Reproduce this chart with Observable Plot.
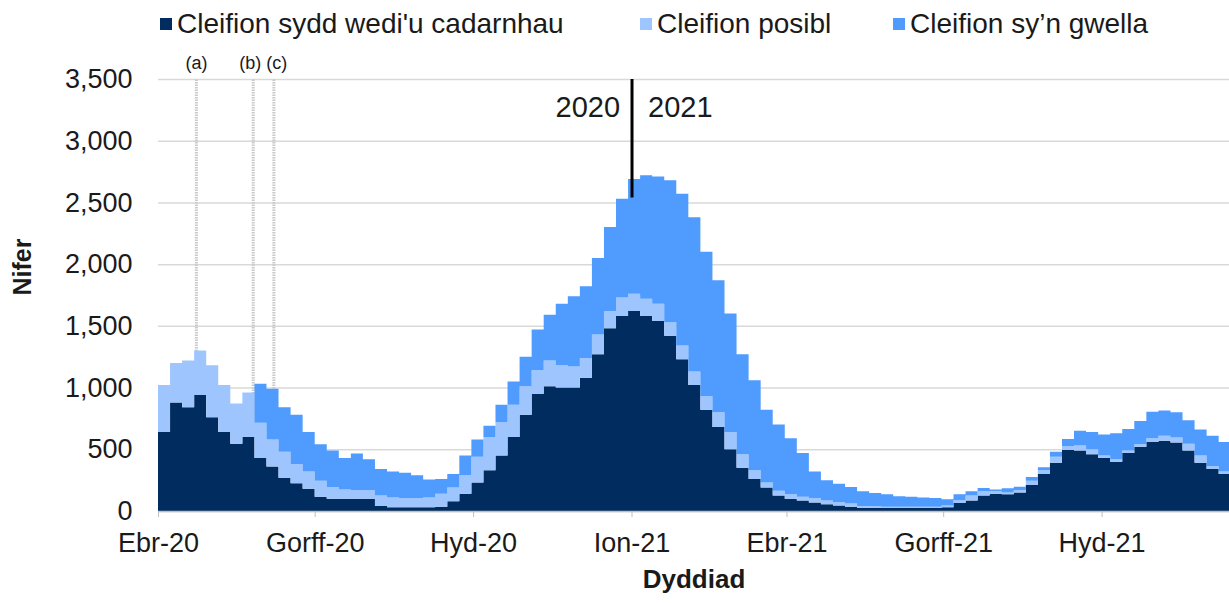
<!DOCTYPE html>
<html>
<head>
<meta charset="utf-8">
<script src="https://cdn.jsdelivr.net/npm/d3@7"></script>
<script src="https://cdn.jsdelivr.net/npm/@observablehq/plot@0.6"></script>
<style>
  body { margin: 0; background: #fff; font-family: "Liberation Sans", Arial, sans-serif; color: #1a1a1a; }
  #legend { position: relative; width: 1229px; height: 50px; }
  .item { position: absolute; top: 8px; display: flex; align-items: center; font-size: 28px; white-space: nowrap; }
  .sw { width: 12px; height: 12px; margin-right: 5px; }
</style>
</head>
<body>
<div id="legend"></div>
<div id="chart"></div>
<script>
// Weekly values, starting 1 April 2020 (each value covers 7 days)
const seriesNames = ["Cleifion sydd wedi'u cadarnhau", "Cleifion posibl", "Cleifion sy’n gwella"];
const seriesColors = ["#002c5f", "#9fc5fe", "#4f9bfe"];
const confirmed = [640,880,840,940,760,640,545,600,430,360,270,225,180,115,100,100,100,100,40,30,30,30,30,35,80,140,230,330,450,600,780,950,1010,1000,1000,1080,1270,1480,1580,1620,1580,1540,1420,1230,1020,820,680,500,350,260,190,125,100,85,68,55,45,35,25,25,25,25,25,25,25,30,65,85,125,140,135,150,210,300,390,494,490,460,430,400,470,520,560,570,555,490,390,340,300];
const suspected = [380,320,380,360,420,380,325,360,285,220,210,155,140,130,95,75,70,70,85,80,75,75,80,105,110,150,210,270,270,260,230,190,210,180,170,160,160,140,150,140,140,140,110,110,110,110,120,140,110,70,40,40,35,30,37,30,25,25,15,13,10,10,10,10,10,15,25,40,35,20,15,20,35,30,50,30,40,40,20,20,20,20,30,40,40,55,60,25,20];
const recovering = [0,0,0,0,0,0,0,0,315,410,360,400,320,295,295,255,295,250,215,210,205,185,145,120,110,160,140,90,140,190,240,330,370,500,570,580,620,680,800,930,1000,1030,1150,1230,1250,1170,1070,960,810,730,590,535,455,355,215,165,150,135,120,107,100,85,80,75,70,50,45,35,26,15,35,27,30,25,40,60,120,140,170,210,175,190,215,205,205,190,210,245,240];

const tickDates = [new Date("2020-04-01"), new Date("2020-07-01"), new Date("2020-10-01"), new Date("2021-01-01"), new Date("2021-04-01"), new Date("2021-07-01"), new Date("2021-10-01")];
const tickLabels = ["Ebr-20", "Gorff-20", "Hyd-20", "Ion-21", "Ebr-21", "Gorff-21", "Hyd-21"];
const yTicks = [0, 500, 1000, 1500, 2000, 2500, 3000, 3500];

const noteDates = [new Date("2020-04-23"), new Date("2020-05-26"), new Date("2020-06-07")];
const noteLabels = ["(a)", "(b)", "(c)"];
const noteShift = [0, -3, 3];
const yearSplit = new Date("2021-01-01");
const yearLabels = ["2020", "2021"];

const startDate = new Date("2020-04-01");
const endDate = new Date("2021-12-14");

// Long table for the stacked step areas; a closing row ends the last week's step
const lists = [confirmed, suspected, recovering];
const rows = [];
lists.forEach((arr, s) => {
  arr.forEach((v, i) => rows.push({date: d3.utcDay.offset(startDate, 7 * i), value: v, series: seriesNames[s]}));
  rows.push({date: d3.utcDay.offset(startDate, 7 * arr.length), value: arr[arr.length - 1], series: seriesNames[s]});
});

// Legend
const legend = document.getElementById("legend");
const legendLeft = [160, 640, 893];
seriesNames.forEach((n, i) => {
  const d = document.createElement("div");
  d.className = "item";
  d.style.left = legendLeft[i] + "px";
  d.innerHTML = `<span class="sw" style="background:${seriesColors[i]}"></span><span>${n}</span>`;
  legend.appendChild(d);
});

const notes = noteLabels.map((t, i) => ({date: noteDates[i], text: t, shift: noteShift[i]}));

const chart = Plot.plot({
  width: 1229,
  height: 553,
  marginTop: 29,
  marginBottom: 92,
  marginLeft: 158,
  marginRight: 0,
  style: {fontFamily: "Liberation Sans, Arial, sans-serif", color: "#1a1a1a", background: "#fff"},
  x: {type: "utc", domain: [startDate, endDate]},
  y: {domain: [0, 3500]},
  color: {domain: seriesNames, range: seriesColors},
  marks: [
    Plot.gridY(yTicks, {stroke: "#d9d9d9", strokeOpacity: 1, strokeWidth: 1.5}),
    Plot.ruleX(noteDates, {y1: 0, y2: 3500, stroke: "#c9c9c9", strokeWidth: 3, strokeDasharray: "1.5 1"}),
    Plot.areaY(rows, {x: "date", y: "value", fill: "series", curve: "step-after", clip: true}),
    Plot.ruleY([0], {stroke: "#bfbfbf", strokeWidth: 1.5}),
    Plot.axisX(tickDates, {tickSize: 6, tickPadding: 15, fontSize: 27, stroke: "#bfbfbf", tickFormat: (d, i) => tickLabels[i], label: null}),
    Plot.axisY(yTicks, {tickSize: 0, tickPadding: 26, fontSize: 27, tickFormat: d3.format(","), label: null}),
    ...notes.map(n => Plot.text([n], {x: "date", y: 3500, dy: -16, dx: n.shift, text: "text", fontSize: 18, fill: "#1a1a1a"})),
    Plot.ruleX([yearSplit], {y1: 3500, y2: 2540, stroke: "#000", strokeWidth: 3}),
    Plot.text([yearLabels[0]], {x: yearSplit, y: 3270, dx: -12, textAnchor: "end", fontSize: 29, fill: "#1a1a1a"}),
    Plot.text([yearLabels[1]], {x: yearSplit, y: 3270, dx: 16, textAnchor: "start", fontSize: 29, fill: "#1a1a1a"}),
    Plot.text(["Dyddiad"], {frameAnchor: "bottom", dy: 76, fontSize: 26, fontWeight: "bold", fill: "#1a1a1a"}),
    Plot.text(["Nifer"], {frameAnchor: "left", dx: -136, rotate: -90, fontSize: 25, fontWeight: "bold", fill: "#1a1a1a"})
  ]
});
document.getElementById("chart").appendChild(chart);
</script>
</body>
</html>
